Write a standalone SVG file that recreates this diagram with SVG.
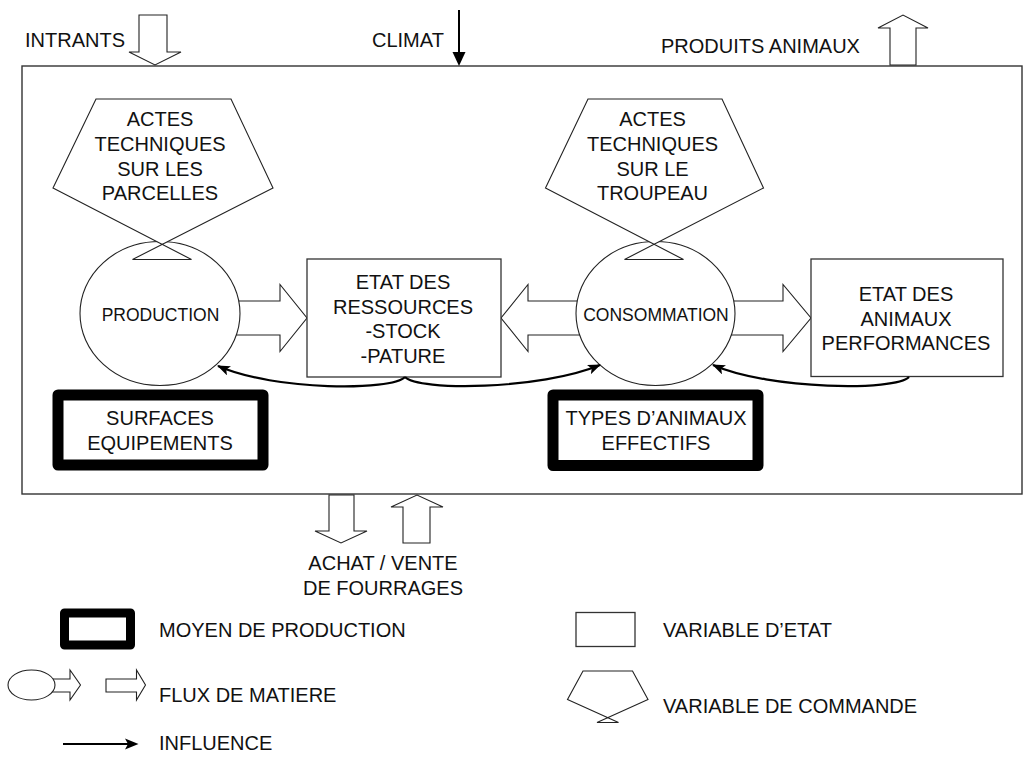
<svg xmlns="http://www.w3.org/2000/svg" width="1025" height="763" viewBox="0 0 1025 763">
<style>
text{font-family:"Liberation Sans",Arial,sans-serif;font-size:20px;fill:#111}
.c{text-anchor:middle}
.s{font-size:17.5px}
.ln{fill:#fff;stroke:#222;stroke-width:1.1}
.box{fill:#fff;stroke:#333;stroke-width:1.3}
.thick{fill:#fff;stroke:#000;stroke-width:11;stroke-linejoin:round}
.inf{fill:none;stroke:#000;stroke-width:2.2}
</style>
<defs>
<marker id="ah" markerUnits="userSpaceOnUse" viewBox="0 0 13 10" refX="12" refY="5" markerWidth="13" markerHeight="10" orient="auto">
<path d="M0,0 L13,5 L0,10 L3,5 Z" fill="#000"/>
</marker>
</defs>
<rect x="0" y="0" width="1025" height="763" fill="#fff"/>

<g id="frame">
<rect x="22" y="66" width="1000" height="428" fill="#fff" stroke="#333" stroke-width="1.4"/>
</g>

<g id="external-flows">
<polygon class="ln" points="139,15 167,15 167,52 181,52 155,65 129,52 139,52"/>
<text x="25" y="47">INTRANTS</text>
<line x1="459" y1="10" x2="459" y2="55" stroke="#000" stroke-width="2"/>
<polygon points="452.5,52 465.5,52 459,66" fill="#000"/>
<text x="372" y="47">CLIMAT</text>
<polygon class="ln" points="890,65 916,65 916,28 928,28 903,15 878,28 890,28"/>
<text x="661" y="53">PRODUITS ANIMAUX</text>
<polygon class="ln" points="329,495 354,495 354,531 367,531 341,543 315,531 329,531"/>
<polygon class="ln" points="403,543 430,543 430,507 443,507 417,495 391,507 403,507"/>
<text class="c" x="383" y="570">ACHAT / VENTE</text>
<text class="c" x="383" y="595">DE FOURRAGES</text>
</g>

<g id="flows">
<polygon class="ln" points="230,301 280,301 280,284.5 307,318 280,351.5 280,335 230,335"/>
<polygon class="ln" points="590,301 528,301 528,284.5 501,318 528,351.5 528,335 590,335"/>
<polygon class="ln" points="722,301 783,301 783,284.5 811,318 783,351.5 783,335 722,335"/>
</g>

<g id="production">
<ellipse class="ln" cx="160" cy="313.5" rx="80" ry="72"/>
<text class="c s" x="160.5" y="320.5">PRODUCTION</text>
</g>

<g id="consommation">
<ellipse class="ln" cx="655.5" cy="313.5" rx="79.5" ry="72"/>
<text class="c s" x="656" y="320.5">CONSOMMATION</text>
</g>

<g id="actes-parcelles">
<polygon class="ln" points="96,99 231,99 273,188 132.5,259.5 191.5,259.5 53,188"/>
<text class="c" x="160" y="126">ACTES</text>
<text class="c" x="160" y="151">TECHNIQUES</text>
<text class="c" x="160" y="176">SUR LES</text>
<text class="c" x="160" y="200">PARCELLES</text>
</g>

<g id="actes-troupeau">
<polygon class="ln" points="588,99 722,99 763.5,188 624.5,259.5 683.5,259.5 545.5,188"/>
<text class="c" x="652.5" y="126">ACTES</text>
<text class="c" x="652.5" y="151">TECHNIQUES</text>
<text class="c" x="652.5" y="176">SUR LE</text>
<text class="c" x="652.5" y="200">TROUPEAU</text>
</g>

<g id="etat-ressources">
<rect class="box" x="307" y="259" width="194" height="118"/>
<text class="c" x="403" y="289">ETAT DES</text>
<text class="c" x="403" y="314">RESSOURCES</text>
<text class="c" x="403" y="338">-STOCK</text>
<text class="c" x="403" y="362.5">-PATURE</text>
</g>

<g id="etat-animaux">
<rect class="box" x="811" y="259" width="192" height="117.5"/>
<text class="c" x="906" y="300.5">ETAT DES</text>
<text class="c" x="906" y="326">ANIMAUX</text>
<text class="c" x="906" y="350">PERFORMANCES</text>
</g>

<g id="surfaces">
<rect class="thick" x="58" y="395" width="205" height="70"/>
<text class="c" x="160" y="425">SURFACES</text>
<text class="c" x="160" y="450">EQUIPEMENTS</text>
</g>

<g id="types-animaux">
<rect class="thick" x="553" y="395" width="205" height="70.5"/>
<text class="c" x="656" y="425">TYPES D’ANIMAUX</text>
<text class="c" x="656" y="450">EFFECTIFS</text>
</g>

<g id="connectors">
<path class="inf" d="M405,377 C392,391 275,391 218,366" marker-end="url(#ah)"/>
<path class="inf" d="M405,377 C418,391 540,390 600,365" marker-end="url(#ah)"/>
<path class="inf" d="M909,377 C896,391 770,390 713,365" marker-end="url(#ah)"/>
</g>

<g id="legend">
<rect x="64.5" y="613" width="66" height="32" fill="#fff" stroke="#000" stroke-width="9" stroke-linejoin="round"/>
<text x="159" y="637">MOYEN DE PRODUCTION</text>
<polygon class="ln" points="50,679 70,679 70,670 80.5,685 70,700 70,692 50,692"/>
<ellipse class="ln" cx="31.5" cy="685" rx="23.5" ry="15"/>
<polygon class="ln" points="106,679 136.5,679 136.5,670 145.5,685 136.5,700 136.5,692 106,692"/>
<text x="159" y="702">FLUX DE MATIERE</text>
<line x1="63" y1="744" x2="128" y2="744" stroke="#000" stroke-width="2.2"/>
<polygon points="125,738.5 138.5,744 125,749.5 128,744" fill="#000"/>
<text x="159" y="750">INFLUENCE</text>
<rect class="box" x="576" y="612.5" width="59" height="34"/>
<text x="663" y="637">VARIABLE D’ETAT</text>
<polygon class="ln" points="583,671 632.5,671 648,699.5 597,722.5 618.5,722.5 567.5,699.5"/>
<text x="663" y="713">VARIABLE DE COMMANDE</text>
</g>
</svg>
